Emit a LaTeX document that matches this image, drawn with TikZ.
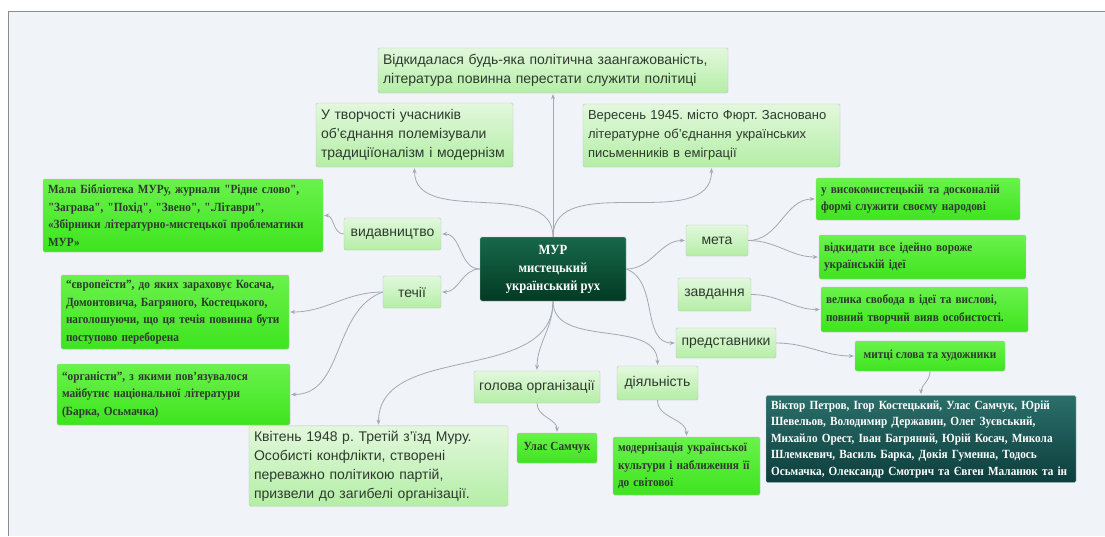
\documentclass[tikz,border=0pt]{standalone}
\usepackage{fontspec}
\setmainfont{Liberation Serif}
\newfontfamily\boxsans{Liberation Sans}
\newfontfamily\boxserif[FakeStretch=0.9, Ligatures=TeXOff]{Liberation Serif}
\usepackage{xcolor}
\usetikzlibrary{arrows.meta}
\frenchspacing

\definecolor{bgpanel}{HTML}{F0F3F8}
\definecolor{framegrey}{HTML}{8C8C8C}
\definecolor{linkgrey}{HTML}{A3AAB2}
\definecolor{palegreen1}{HTML}{E2F8DC}
\definecolor{palegreen2}{HTML}{B4EEA6}
\definecolor{boxedge}{HTML}{BAC6C2}
\definecolor{limegreen1}{HTML}{6AF24C}
\definecolor{limegreen2}{HTML}{3EE41E}
\definecolor{deepgreen1}{HTML}{17684A}
\definecolor{deepgreen2}{HTML}{023A24}
\definecolor{deepteal1}{HTML}{2B6F6A}
\definecolor{deepteal2}{HTML}{0C3E3D}
\definecolor{inktext}{HTML}{2E3A2E}

\tikzset{
  palebox/.style={draw=boxedge, rounded corners=1.5pt, top color=palegreen1, bottom color=palegreen2,
    text=inktext, font=\boxsans\fontsize{14}{19}\selectfont, align=left, inner sep=5pt, text width=#1},
  palebox/.default={},
  palelabel/.style={draw=boxedge, rounded corners=1.5pt, top color=palegreen1, bottom color=palegreen2,
    text=inktext, font=\boxsans\fontsize{14}{19}\selectfont, align=center, inner sep=5pt},
  limebox/.style={draw=boxedge, rounded corners=1.5pt, top color=limegreen1, bottom color=limegreen2,
    text=inktext, font=\boxserif\bfseries\fontsize{12.5}{17.5}\selectfont, align=left, inner sep=5pt, text width=#1},
  limelabel/.style={draw=boxedge, rounded corners=1.5pt, top color=limegreen1, bottom color=limegreen2,
    text=inktext, font=\boxserif\bfseries\fontsize{12.5}{17.5}\selectfont, align=center, inner sep=5pt},
  darkbox/.style={draw=boxedge, rounded corners=1.5pt, top color=deepgreen1, bottom color=deepgreen2,
    text=white, font=\boxserif\bfseries\fontsize{14}{18}\selectfont, align=center},
  link/.style={draw=linkgrey, line width=0.8pt, -{Stealth[length=5pt,width=4pt]}, shorten >=1pt},
}

\begin{document}
\begin{tikzpicture}[x=1pt, y=-1pt]
\useasboundingbox (0,0) rectangle (1105,536);

% Panel
\fill[white] (0,0) rectangle (1105,536);
\fill[bgpanel] (8,11) rectangle (1105,536);
\draw[framegrey] (1105,11) -- (8,11) -- (8,536);

% Centre
\node[darkbox, minimum width=146pt, minimum height=64pt] (mur) at (553,269) {МУР\\ мистецький\\ український рух};

% Upper branch
\node[palebox=340pt, minimum height=45pt] (top) at (553,70.5)
  {Відкидалася будь-яка політична заангажованість,\\ література повинна перестати служити політиці};
\node[palebox=187pt, minimum height=64pt] (tvor) at (414.5,135)
  {У творчості учасників\\ об’єднання полемізували\\ традиціїоналізм і модернізм};
\node[palebox=247pt, font=\boxsans\fontsize{13}{19}\selectfont, minimum height=63pt] (veres) at (711.5,135.5)
  {Вересень 1945. місто Фюрт. Засновано\\ літературне об’єднання українських\\ письменників в еміграції};

% Left branch
\node[palelabel, minimum width=97pt, minimum height=32pt] (vyd) at (392.5,234) {видавництво};
\node[limebox=270pt, minimum height=73pt] (mala) at (183,215.5)
  {Мала Бібліотека МУРу, журнали "Рідне слово",\\ "Заграва", "Похід", "Звено", ".Літаври",\\ «Збірники літературно-мистецької проблематики\\ МУР»};
\node[palelabel, minimum width=58pt, minimum height=32pt] (techii) at (412,292) {течії};
\node[limebox=218pt, minimum height=74pt] (evrop) at (175,312)
  {“європеїсти”, до яких зараховує Косача,\\ Домонтовича, Багряного, Костецького,\\ наголошуючи, що ця течія повинна бути\\ поступово переборена};
\node[limebox=223pt, minimum height=61pt] (organ) at (173.5,394.5)
  {“органісти”, з якими пов’язувалося\\ майбутнє національної літератури\\ (Барка, Осьмачка)};

% Lower branch
\node[palelabel, minimum width=126pt, minimum height=32pt] (golova) at (537,387) {голова організації};
\node[palebox=249pt, minimum height=78pt] (kviten) at (378.5,466)
  {Квітень 1948 р. Третій з’їзд Муру.\\ Особисті конфлікти, створені\\ переважно політикою партій,\\ призвели до загибелі організації.};
\node[limelabel, minimum width=80pt, minimum height=30pt] (samchuk) at (557,448) {Улас Самчук};
\node[palelabel, minimum width=81pt, minimum height=34pt] (dial) at (657.5,383) {діяльність};
\node[limebox=137pt, minimum height=58pt] (modern) at (686.5,466)
  {модернізація української\\ культури і наближення її\\ до світової};

% Right branch
\node[palelabel, minimum width=62pt, minimum height=31pt] (meta) at (717,240.5) {мета};
\node[limebox=194pt, minimum height=42pt] (vysoko) at (918,199)
  {у високомистецькій та досконалій\\ формі служити своєму народові};
\node[limebox=197pt, minimum height=44pt] (vidkyd) at (922.5,257)
  {відкидати все ідейно вороже\\ українській ідеї};
\node[palelabel, minimum width=73pt, minimum height=33pt] (zavd) at (714.5,294.5) {завдання};
\node[limebox=197pt, minimum height=45pt] (svoboda) at (924.5,309.5)
  {велика свобода в ідеї та вислові,\\ повний творчий вияв особистості.};
\node[palelabel, minimum width=100pt, minimum height=30pt] (pred) at (726,343) {представники};
\node[limelabel, minimum width=150pt, minimum height=30pt] (mytci) at (930,356) {митці слова та художники};
\node[darkbox, top color=deepteal1, bottom color=deepteal2, align=left, font=\boxserif\bfseries\fontsize{12.5}{16.5}\selectfont,
  text width=300pt, inner sep=5pt, minimum height=84pt] (viktor) at (921,439)
  {Віктор Петров, Ігор Костецький, Улас Самчук, Юрій\\ Шевельов, Володимир Державин, Олег Зуєвський,\\ Михайло Орест, Іван Багряний, Юрій Косач, Микола\\ Шлемкевич, Василь Барка, Докія Гуменна, Тодось\\ Осьмачка, Олександр Смотрич та Євген Маланюк та ін};

% Links from the centre
\draw[link] (mur.north) -- (top.south);
\draw[link] (mur.north) to[out=90, in=-90] (tvor.south);
\draw[link] (mur.north) to[out=90, in=-90] (veres.south);
\draw[link] (mur.west) to[out=180, in=0] (vyd.east);
\draw[link] (mur.west) to[out=180, in=0] (techii.east);
\draw[link] (mur.south) to[out=-90, in=90] (golova.north);
\draw[link] (mur.south) to[out=-90, in=90] (kviten.north);
\draw[link] (mur.south) to[out=-90, in=90] (dial.north);
\draw[link] (mur.east) to[out=0, in=180] (meta.west);
\draw[link] (mur.east) to[out=-20, in=180] (pred.west);

% Links between branches
\draw[link] (vyd.west) to[out=180, in=0] (mala.east);
\draw[link] (techii.west) to[out=180, in=0] (evrop.east);
\draw[link] (techii.west) to[out=200, in=0] (organ.east);
\draw[link] (golova.south) to[out=-90, in=90] (samchuk.north);
\draw[link] (dial.south) to[out=-90, in=90] (modern.north);
\draw[link] (meta.east) to[out=0, in=180] (vysoko.west);
\draw[link] (meta.east) to[out=0, in=180] (vidkyd.west);
\draw[link] (zavd.east) to[out=0, in=180] (svoboda.west);
\draw[link] (pred.east) to[out=0, in=180] (mytci.west);
\draw[link] (mytci.south) to[out=-90, in=90] (viktor.north);

\end{tikzpicture}
\end{document}
